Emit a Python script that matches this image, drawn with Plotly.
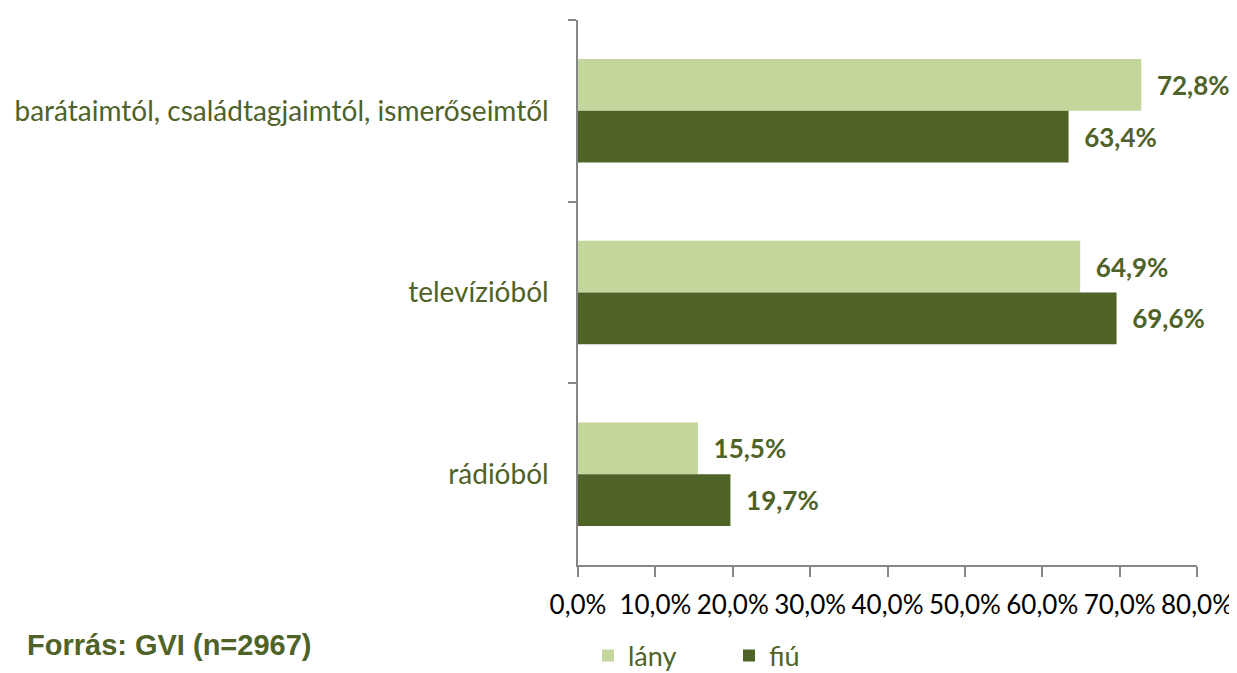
import plotly.graph_objects as go

categories = ["barátaimtól, családtagjaimtól, ismerőseimtől", "televízióból", "rádióból"]
lany = [72.8, 64.9, 15.5]
fiu = [63.4, 69.6, 19.7]
series_names = ["lány", "fiú"]
x_ticks = [0, 10, 20, 30, 40, 50, 60, 70, 80]
x_tick_labels = ["0,0%", "10,0%", "20,0%", "30,0%", "40,0%", "50,0%", "60,0%", "70,0%", "80,0%"]
source_text = "Forrás: GVI (n=2967)"

GREEN_DARK = "#4F6228"
GREEN_LIGHT = "#C3D69B"
AXIS = "#868686"
W, H = 1237, 673
OFF = 8  # browser body margin

fig = go.Figure()
for name, vals, col in [(series_names[0], lany, GREEN_LIGHT), (series_names[1], fiu, GREEN_DARK)]:
    fig.add_trace(go.Bar(
        y=categories, x=vals, name=name, orientation="h",
        marker=dict(color=col, line=dict(width=0)),
        texttemplate="\u00a0\u00a0%{x:.1f}%", textposition="outside",
        textfont=dict(family="Lato", size=26, color=GREEN_DARK, weight="bold"),
        cliponaxis=False,
    ))

fig.update_layout(
    width=W, height=H,
    margin=dict(l=578 - OFF, r=W - 1197 + OFF, t=20 - OFF, b=H - 565 + OFF),
    paper_bgcolor="white", plot_bgcolor="white",
    barmode="group", bargap=0.43, bargroupgap=0,
    separators=", ",
    showlegend=True,
    legend=dict(orientation="h", xref="container", yref="container",
                x=(588 - OFF) / W, xanchor="left",
                y=1 - (656 - OFF) / H, yanchor="middle",
                font=dict(family="Lato", size=27, color=GREEN_DARK),
                entrywidth=96, entrywidthmode="pixels", traceorder="normal"),
    font=dict(family="Lato"),
    xaxis=dict(range=[0, 80], tickvals=x_ticks, ticktext=x_tick_labels, automargin=False,
               showgrid=False, zeroline=False, showline=True, linecolor=AXIS, linewidth=1.5,
               ticks="outside", ticklen=10, tickcolor=AXIS, tickwidth=1.5,
               ticklabelstandoff=6,
               tickfont=dict(family="Lato", size=26, color="black")),
    yaxis=dict(autorange="reversed", automargin=False, showgrid=False, showline=True,
               linecolor=AXIS, linewidth=1.5,
               ticks="outside", ticklen=8, tickcolor=AXIS, tickwidth=1.5, tickson="boundaries",
               ticklabelstandoff=22,
               tickfont=dict(family="Lato", size=28, color=GREEN_DARK)),
)

fig.add_annotation(text=source_text, xref="paper", yref="paper",
                   x=(25 - 578) / 619, y=-(645 - 565) / 545, xanchor="left", yanchor="middle",
                   showarrow=False,
                   font=dict(family="Liberation Sans", size=29, color=GREEN_DARK, weight="bold"))

fig.write_html("out.html")
